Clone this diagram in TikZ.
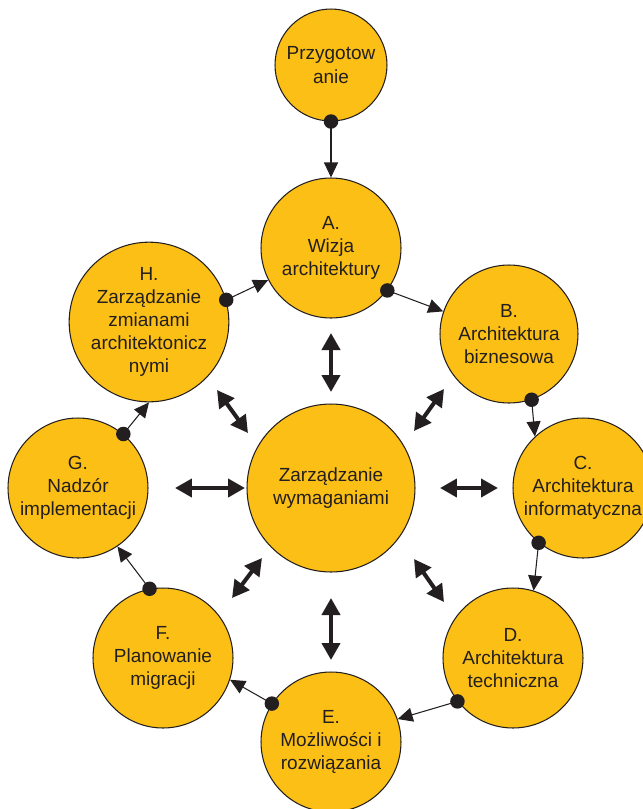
\documentclass[tikz,border=0pt]{standalone}
\usepackage{fontspec}
\setmainfont{Liberation Sans}
\usetikzlibrary{arrows.meta}
\definecolor{phasefill}{RGB}{252,191,21}
\definecolor{ink}{RGB}{35,31,32}
\begin{document}
\begin{tikzpicture}[x=0.02cm,y=-0.02cm,
  phase/.style={circle,draw=ink,line width=0.6pt,fill=phasefill,inner sep=0pt,
    minimum size=2.8cm,align=center,text=ink,
    font=\fontsize{10.8}{13.2}\selectfont},
  flow/.style={draw=ink,line width=0.6pt,-{Triangle[length=0.3cm,width=0.28cm]}},
  link/.style={draw=ink,line width=2.3pt,
    {Triangle[length=0.34cm,width=0.36cm]}-{Triangle[length=0.34cm,width=0.36cm]}},
  dotmark/.style={fill=ink}]
\useasboundingbox (0,0) rectangle (643,809);

% phases of the cycle
\node[phase,minimum size=2.24cm] (P) at (331,65) {Przygotow\\anie};
\node[phase] (A) at (331,248) {A.\\Wizja\\architektury};
\node[phase,minimum size=2.76cm] (B) at (509,334) {B.\\Architektura\\biznesowa};
\node[phase] (C) at (583,488) {C.\\Architektura\\informatyczna};
\node[phase] (D) at (513,658) {D.\\Architektura\\techniczna};
\node[phase] (E) at (331,742) {E.\\Możliwości i\\rozwiązania};
\node[phase] (F) at (163,658) {F.\\Planowanie\\migracji};
\node[phase] (G) at (78,488) {G.\\Nadzór\\implementacji};
\node[phase] (H) at (149,322) {H.\\Zarządzanie\\zmianami\\architektonicz\\nymi};
\node[phase,minimum size=3.36cm] (Z) at (331,488) {Zarządzanie\\wymaganiami};

% flow around the cycle
\draw[flow] (P.south) -- (A.north);
\draw[flow] (A.-37.5) -- (B.161.8);
\draw[flow] (B.-71.8) -- (C.133);
\draw[flow] (C.-129) -- (D.73.6);
\draw[flow] (D.-142.5) -- (E.19.4);
\draw[flow] (E.147.9) -- (F.-18.2);
\draw[flow] (F.101) -- (G.-56.7);
\draw[flow] (G.50.7) -- (H.-90);
\draw[flow] (H.16.4) -- (A.-153);

\foreach \p in {P.south,A.-37.5,B.-71.8,C.-129,D.-142.5,E.147.9,F.101,G.50.7,H.16.4}
  \fill[dotmark] (\p) circle[radius=0.145cm];

% links to requirements management
\coordinate (nA) at (331,333);  \coordinate (nZ) at (331,392);
\coordinate (sZ) at (331,598);  \coordinate (sE) at (331,660);
\coordinate (wG) at (175,488);  \coordinate (wZ) at (245,488);
\coordinate (eZ) at (440,488);  \coordinate (eC) at (498,488);
\coordinate (nwH) at (217,390); \coordinate (nwZ) at (248,433);
\coordinate (neZ) at (414,431); \coordinate (neB) at (444,389);
\coordinate (swZ) at (262,558); \coordinate (swF) at (232,598);
\coordinate (seZ) at (414,559); \coordinate (seD) at (444,602);

\draw[link] (nA) -- (nZ);
\draw[link] (sZ) -- (sE);
\draw[link] (wG) -- (wZ);
\draw[link] (eZ) -- (eC);
\draw[link] (nwH) -- (nwZ);
\draw[link] (neZ) -- (neB);
\draw[link] (swZ) -- (swF);
\draw[link] (seZ) -- (seD);
\end{tikzpicture}
\end{document}
